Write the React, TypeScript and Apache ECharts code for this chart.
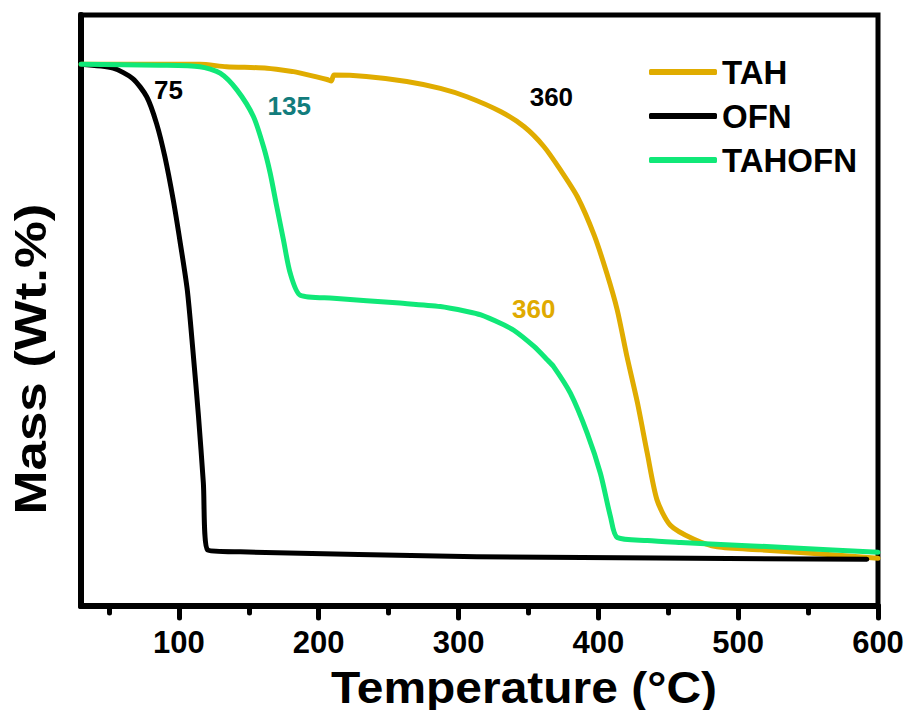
import React, { useEffect, useRef } from "react";
import * as echarts from "echarts";

// TAH
const tahTemp = [30, 86, 115, 134, 163, 182, 187, 206, 209, 211, 234, 263, 287, 306, 330, 347, 361, 373, 385, 397, 406, 413.5, 420.5, 428, 435, 442, 451.5, 468, 485, 516, 552, 600];
const tahMass = [100, 100, 100, 99.5, 99.2, 98.5, 98.2, 96.9, 96.6, 97.8, 97.5, 96.5, 95.1, 93.4, 90.4, 87.3, 83.3, 78.5, 73.1, 65.3, 57.6, 50.1, 40.6, 31.2, 21.0, 11.5, 6.4, 3.6, 2.0, 1.4, 0.7, -0.3];

// OFN
const ofnTemp = [30, 53, 67, 77, 84, 90, 96, 101, 106, 110, 114, 117.5, 120.5, 144, 313, 592];
const ofnMass = [100, 99.2, 97.1, 93.4, 88, 81.2, 72.4, 63.7, 54.2, 42, 28.6, 15, 1.4, 1.0, 0, -0.5];

// TAHOFN
const tahofnTemp = [30, 86.5, 115, 129.5, 141.5, 153.3, 160.5, 165.3, 170, 174.8, 179.6, 186.8, 210.6, 258, 287, 306, 316, 330, 339.5, 354, 363.4, 368, 380, 392, 401.5, 408.7, 413.5, 435, 459, 480, 540, 600];
const tahofnMass = [100, 99.8, 99.5, 98.2, 94.8, 89.4, 83.3, 77.9, 71.1, 64.3, 57.6, 53.1, 52.5, 51.5, 50.8, 49.8, 49.1, 47.4, 46.0, 42.7, 40.0, 38.6, 33.2, 25.1, 16.9, 8.1, 3.9, 3.3, 2.9, 2.6, 1.8, 0.9];

// annotations
const annoText = ["75", "135", "360", "360"];
const annoTemp = [92.6, 178.9, 366.4, 353.8];
const annoMass = [94.8, 91.5, 93.4, 50.3];
const annoColor = ["#000000", "#127C7C", "#000000", "#E0AA00"];

const seriesNames = ["TAH", "OFN", "TAHOFN"];
const seriesColors = ["#E0AC00", "#000000", "#10E878"];

const majorTicks = [100, 200, 300, 400, 500, 600];
const minorTicks = [50, 150, 250, 350, 450, 550];

const FONT = "'Liberation Sans', Arial, Helvetica, sans-serif";

export default function App() {
  const ref = useRef<HTMLDivElement>(null);
  useEffect(() => {
    const chart = echarts.init(ref.current!, null, { renderer: "svg" });
    const zip = (xs: number[], ys: number[]) => xs.map((x, i) => [x, ys[i]]);
    const lineSeries = (name: string, color: string, xs: number[], ys: number[]) => ({
      name,
      type: "line",
      data: zip(xs, ys),
      symbol: "none",
      smooth: 0.25,
      color,
      lineStyle: { color, width: 5, cap: "round", join: "round" },
      xAxisIndex: 0,
      yAxisIndex: 0,
    });
    chart.setOption({
      animation: false,
      backgroundColor: "#ffffff",
      grid: {
        left: 81,
        right: 31,
        top: 15,
        bottom: 104,
        show: true,
        borderColor: "#000",
        borderWidth: 5,
        backgroundColor: "transparent",
      },
      legend: {
        data: seriesNames,
        orient: "vertical",
        left: 649,
        top: 54,
        padding: 0,
        itemWidth: 68,
        itemHeight: 6,
        itemGap: 8,
        icon: "roundRect",
        textStyle: {
          fontSize: 33,
          fontWeight: "bold",
          color: "#000",
          fontFamily: FONT,
          lineHeight: 36,
        },
      },
      xAxis: [
        {
          type: "value",
          min: 30,
          max: 600,
          position: "bottom",
          axisLine: { show: true, onZero: false, lineStyle: { color: "#000", width: 6 } },
          axisTick: {
            show: true,
            customValues: majorTicks,
            length: 12,
            inside: false,
            lineStyle: { color: "#000", width: 5, cap: "round" },
          },
          axisLabel: {
            show: true,
            customValues: majorTicks,
            fontSize: 31,
            fontWeight: "bold",
            color: "#000",
            margin: 21,
            fontFamily: FONT,
          },
          splitLine: { show: false },
        },
        {
          type: "value",
          min: 30,
          max: 600,
          position: "bottom",
          axisLine: { show: false, onZero: false },
          axisTick: {
            show: true,
            customValues: minorTicks,
            length: 7,
            inside: false,
            lineStyle: { color: "#000", width: 5, cap: "round" },
          },
          axisLabel: { show: false },
          splitLine: { show: false },
        },
      ],
      yAxis: {
        type: "value",
        min: -10,
        max: 110,
        axisLine: { show: true, onZero: false, lineStyle: { color: "#000", width: 6 } },
        axisTick: { show: false },
        axisLabel: { show: false },
        splitLine: { show: false },
      },
      series: [
        lineSeries(seriesNames[0], seriesColors[0], tahTemp, tahMass),
        lineSeries(seriesNames[1], seriesColors[1], ofnTemp, ofnMass),
        lineSeries(seriesNames[2], seriesColors[2], tahofnTemp, tahofnMass),
        {
          name: "annotations",
          type: "scatter",
          symbolSize: 1,
          itemStyle: { color: "rgba(0,0,0,0)", opacity: 1 },
          silent: true,
          data: annoText.map((t, i) => ({
            value: [annoTemp[i], annoMass[i]],
            label: {
              show: true,
              position: "inside",
              formatter: t,
              color: annoColor[i],
              opacity: 1,
              fontSize: 26,
              fontWeight: "bold",
              fontFamily: FONT,
            },
          })),
        },
      ],
      graphic: [
        {
          type: "text",
          x: 524,
          y: 688,
          scaleX: 1.09,
          style: {
            text: "Temperature (°C)",
            font: `bold 44px ${FONT}`,
            fill: "#000",
            textAlign: "center",
            textVerticalAlign: "middle",
          },
        },
        {
          type: "text",
          x: 31,
          y: 359,
          rotation: Math.PI / 2,
          scaleX: 1.2,
          style: {
            text: "Mass (Wt.%)",
            font: `bold 44px ${FONT}`,
            fill: "#000",
            textAlign: "center",
            textVerticalAlign: "middle",
          },
        },
      ],
    });
    return () => chart.dispose();
  }, []);
  return (
    <div
      ref={ref}
      style={{ position: "absolute", left: 0, top: 0, width: 909, height: 710 }}
    />
  );
}
